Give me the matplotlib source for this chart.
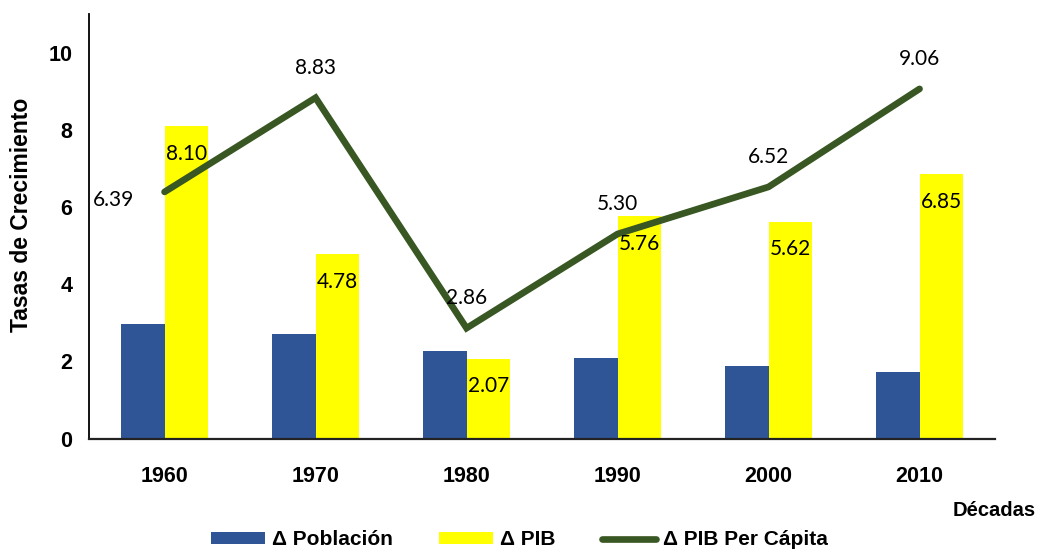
import numpy as np
import matplotlib.pyplot as plt

decadas = ['1960', '1970', '1980', '1990', '2000', '2010']
poblacion = [2.98, 2.72, 2.28, 2.08, 1.89, 1.72]
pib = [8.10, 4.78, 2.07, 5.76, 5.62, 6.85]
pib_per_capita = [6.39, 8.83, 2.86, 5.30, 6.52, 9.06]

azul = '#2F5597'
amarillo = '#FFFF00'
verde = '#385723'

fig = plt.figure(figsize=(10.39, 5.52), dpi=100)
ax = fig.add_axes([0.0857, 0.2056, 0.872, 0.769])

x = np.arange(len(decadas))
w = 0.29
b1 = ax.bar(x - w / 2, poblacion, w, color=azul, label='Δ Población')
b2 = ax.bar(x + w / 2, pib, w, color=amarillo, label='Δ PIB')
l1, = ax.plot(x, pib_per_capita, color=verde, lw=4.8, solid_capstyle='round',
              solid_joinstyle='miter', label='Δ PIB Per Cápita', zorder=3)

lbl_font = dict(family=['Lato', 'DejaVu Sans'], fontsize=15)

# etiquetas de las barras amarillas (dentro, cerca del extremo)
for xi, v in zip(x, pib):
    ax.annotate(f'{v:.2f}', (xi + w / 2, v), xytext=(0, -20),
                textcoords='offset points', ha='center', va='center',
                zorder=4, **lbl_font)

# etiquetas de la línea
for i, (xi, v) in enumerate(zip(x, pib_per_capita)):
    off = (-37, -6) if i == 0 else (0, 21.5)
    ax.annotate(f'{v:.2f}', (xi, v), xytext=off, textcoords='offset points',
                ha='center', va='center', zorder=4, **lbl_font)

ax.set_xlim(-0.5, 5.5)
ax.set_ylim(0, 11)
ax.set_yticks([0, 2, 4, 6, 8, 10])
ax.set_xticks(x)
ax.set_xticklabels(decadas)

for t in ax.get_xticklabels() + ax.get_yticklabels():
    t.set_fontfamily('Liberation Sans')
    t.set_fontsize(15.5)
    t.set_fontweight('bold')
ax.tick_params(axis='y', length=0, pad=12)
ax.tick_params(axis='x', length=0, pad=20)

for s in ['top', 'right']:
    ax.spines[s].set_visible(False)
ax.spines['left'].set_linewidth(1.3)
ax.spines['bottom'].set_linewidth(1.6)
ax.spines['bottom'].set_color('#222222')

fig.text(0.021, 0.61, 'Tasas de Crecimiento', rotation=90, ha='center',
         va='center', family='Liberation Sans', fontsize=16.5,
         fontweight='bold')
fig.text(0.957, 0.076, 'Décadas', ha='center', va='center',
         family='Liberation Sans', fontsize=14.5, fontweight='bold')

fig.legend([b1, b2, l1], ['Δ Población', 'Δ PIB', 'Δ PIB Per Cápita'],
           loc='center', bbox_to_anchor=(0.5, 0.022), ncol=3,
           frameon=False, handlelength=2.6, handleheight=0.56,
           columnspacing=2.2, handletextpad=0.35,
           prop=dict(family='Liberation Sans', size=15, weight='bold'))

fig.savefig('out.png', dpi=100)
